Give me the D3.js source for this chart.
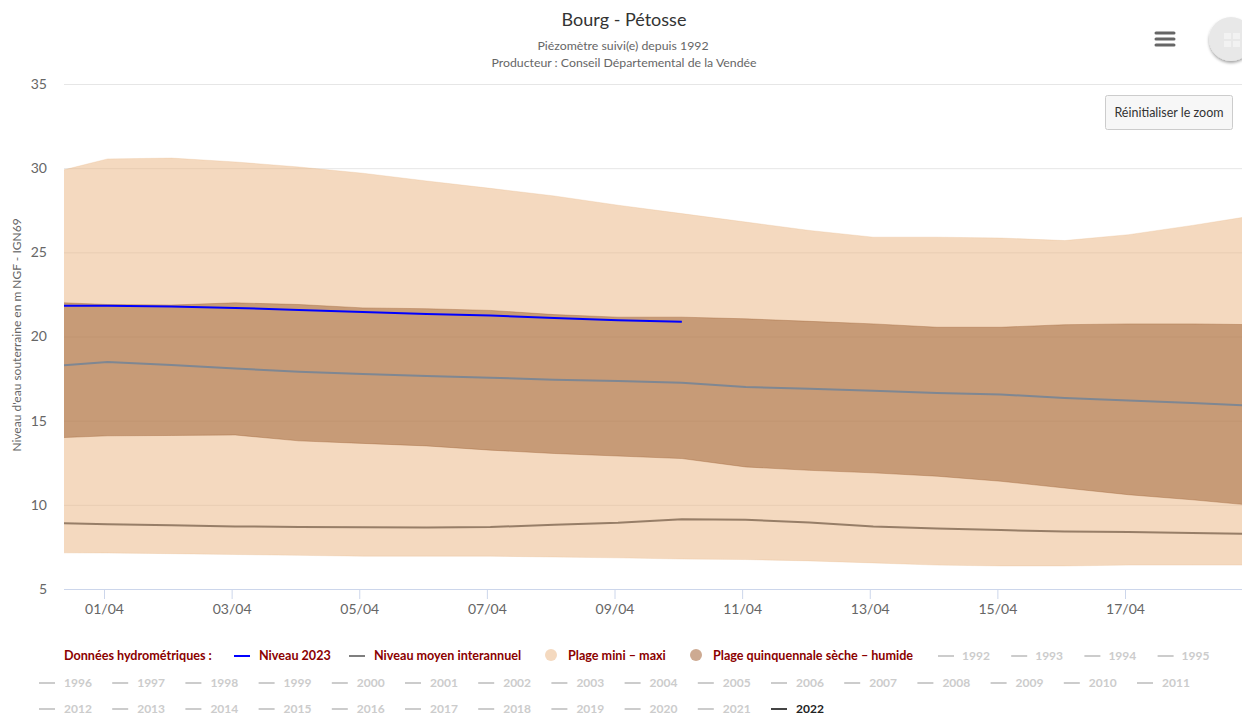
<!DOCTYPE html>
<html>
<head>
<meta charset="utf-8">
<script src="https://cdn.jsdelivr.net/npm/d3@7"></script>
<style>
  html, body { margin: 0; padding: 0; background: #fff; overflow: hidden; }
  svg { display: block; font-family: Lato, "Noto Sans", sans-serif; }
</style>
</head>
<body>
<svg width="1242" height="715"></svg>
<script>
"use strict"

const days = ["31/03","01/04","02/04","03/04","04/04","05/04","06/04","07/04","08/04","09/04","10/04","11/04","12/04","13/04","14/04","15/04","16/04","17/04","18/04","19/04"]
const tickDays = ["01/04","03/04","05/04","07/04","09/04","11/04","13/04","15/04","17/04"]
const yTicks = [5, 10, 15, 20, 25, 30, 35]

const rangeMax = [29.6,30.55,30.6,30.37,30.07,29.7,29.24,28.8,28.35,27.8,27.3,26.8,26.3,25.9,25.9,25.85,25.7,26.05,26.6,27.2]
const rangeMin = [7.15,7.14,7.1,7.05,7,6.95,6.95,6.95,6.9,6.85,6.78,6.75,6.67,6.55,6.42,6.37,6.37,6.42,6.42,6.42]
const quinHigh = [22.05,21.9,21.87,22,21.9,21.7,21.65,21.55,21.3,21.15,21.15,21.05,20.9,20.75,20.55,20.55,20.7,20.75,20.75,20.7]
const quinLow = [13.95,14.1,14.12,14.15,13.8,13.65,13.5,13.25,13.05,12.9,12.75,12.25,12.05,11.9,11.7,11.4,11,10.6,10.3,9.95]
const meanLevel = [18.2,18.48,18.3,18.1,17.9,17.77,17.65,17.55,17.43,17.35,17.25,17,16.9,16.78,16.65,16.55,16.35,16.2,16.05,15.87]
const level2022 = [8.93,8.85,8.78,8.72,8.68,8.67,8.65,8.68,8.82,8.93,9.15,9.12,8.95,8.72,8.6,8.5,8.42,8.38,8.33,8.27]
const level2023 = [21.82,21.82,21.78,21.7,21.58,21.45,21.33,21.25,21.1,20.97,20.87]

const legendRow1 = ["1992","1993","1994","1995"]
const legendRow2 = ["1996","1997","1998","1999","2000","2001","2002","2003","2004","2005","2006","2007","2008","2009","2010","2011"]
const legendRow3 = ["2012","2013","2014","2015","2016","2017","2018","2019","2020","2021","2022"]

const plotLeft = 64, plotRight = 1242, plotTop = 84, plotBottom = 589
const parseDay = d3.utcParse("%d/%m/%Y")
const toDate = d => parseDay(d + "/2023")

const x = d3.scaleUtc().domain([toDate("01/04"), toDate("17/04")]).range([104, 1125])
const y = d3.scaleLinear().domain([5, 35]).range([plotBottom, plotTop])

const svg = d3.select("svg")

svg.append("defs").append("clipPath").attr("id", "plot-clip")
    .append("rect").attr("x", plotLeft).attr("y", plotTop).attr("width", plotRight - plotLeft).attr("height", plotBottom - plotTop)

const shadow = svg.select("defs").append("filter").attr("id", "btn-shadow")
    .attr("x", "-30%").attr("y", "-30%").attr("width", "160%").attr("height", "170%")
shadow.append("feDropShadow").attr("dx", 0).attr("dy", 2).attr("stdDeviation", 1.5)
    .attr("flood-color", "#000").attr("flood-opacity", 0.35)

// grid and axes
const yAxis = d3.axisLeft(y).tickValues(yTicks).tickSize(-(plotRight - plotLeft)).tickPadding(17)
svg.append("g").attr("transform", "translate(" + plotLeft + ",0)").call(yAxis)
    .call(g => g.select(".domain").remove())
    .call(g => g.selectAll(".tick line").attr("stroke", "#e6e6e6"))
    .call(g => g.selectAll(".tick line").filter(d => d === 5).remove())
    .call(g => g.selectAll("text").attr("fill", "#666").style("font-size", "14px").style("font-family", "Lato"))

const xAxis = d3.axisBottom(x).tickValues(tickDays.map(toDate)).tickFormat(d3.utcFormat("%d/%m")).tickSize(10).tickPadding(5)
svg.append("g").attr("transform", "translate(0," + plotBottom + ")").call(xAxis)
    .call(g => g.select(".domain").remove())
    .call(g => g.selectAll(".tick line").attr("stroke", "#ccd6eb"))
    .call(g => g.selectAll("text").attr("fill", "#666").style("font-size", "14px").style("font-family", "Lato"))

svg.append("line").attr("x1", plotLeft).attr("x2", plotRight).attr("y1", plotBottom + 0.5).attr("y2", plotBottom + 0.5).attr("stroke", "#ccd6eb")

// bands and lines, measures are taken a little after midnight
const plot = svg.append("g").attr("clip-path", "url(#plot-clip)")
const dates = days.map(d => d3.utcMinute.offset(toDate(d), 80))

const band = (low, high) => d3.area().x((d, i) => x(dates[i])).y0((d, i) => y(low[i])).y1((d, i) => y(high[i]))(days)
const line = values => d3.line().x((d, i) => x(dates[i])).y(d => y(d))(values)

plot.append("path").attr("d", band(rangeMin, rangeMax)).attr("fill", "#e9b37f").attr("fill-opacity", 0.5)
    .attr("stroke", "#e9b37f").attr("stroke-opacity", 0.25)
plot.append("path").attr("d", band(quinLow, quinHigh)).attr("fill", "#9a5d2f").attr("fill-opacity", 0.5)
    .attr("stroke", "#9a5d2f").attr("stroke-opacity", 0.35)
plot.append("path").attr("d", line(level2022)).attr("fill", "none").attr("stroke", "#3a2410").attr("stroke-opacity", 0.5).attr("stroke-width", 2)
plot.append("path").attr("d", line(meanLevel)).attr("fill", "none").attr("stroke", "#7f8792").attr("stroke-width", 2)
plot.append("path").attr("d", line(level2023)).attr("fill", "none").attr("stroke", "#0000ff").attr("stroke-width", 2)

// titles
svg.append("text").attr("x", 624).attr("y", 26).attr("text-anchor", "middle").attr("fill", "#333").style("font-size", "18px").text("Bourg - Pétosse")
svg.append("text").attr("x", 623).attr("y", 50).attr("text-anchor", "middle").attr("fill", "#666").style("font-size", "12.3px").text("Piézomètre suivi(e) depuis 1992")
svg.append("text").attr("x", 624).attr("y", 67).attr("text-anchor", "middle").attr("fill", "#666").style("font-size", "12.3px").text("Producteur : Conseil Départemental de la Vendée")
svg.append("text").attr("transform", "translate(21,335) rotate(-90)").attr("text-anchor", "middle").attr("fill", "#666").style("font-size", "12px")
    .text("Niveau d'eau souterraine en m NGF - IGN69")

// menu, export button
svg.append("g").selectAll("line").data([33, 39, 45]).join("line")
    .attr("x1", 1156).attr("x2", 1174).attr("y1", d => d).attr("y2", d => d)
    .attr("stroke", "#666").attr("stroke-width", 3).attr("stroke-linecap", "round")

svg.append("circle").attr("cx", 1231).attr("cy", 39).attr("r", 22).attr("fill", "#e8e8e8").attr("filter", "url(#btn-shadow)")
svg.append("g").attr("fill", "#f2f2f2").selectAll("rect").data([[1224, 33], [1233, 33], [1224, 41], [1233, 41]]).join("rect")
    .attr("x", d => d[0]).attr("y", d => d[1]).attr("width", 7).attr("height", 6)

svg.append("rect").attr("x", 1105.5).attr("y", 95.5).attr("width", 127).attr("height", 34).attr("rx", 2)
    .attr("fill", "#f7f7f7").attr("stroke", "#ccc")
svg.append("text").attr("x", 1169).attr("y", 117).attr("text-anchor", "middle").attr("fill", "#333").style("font-size", "12.5px").text("Réinitialiser le zoom")

// legend
const legend = svg.append("g").style("font-size", "12px").style("font-weight", 700)
const legendText = (tx, ty, label, color) => legend.append("text").attr("x", tx).attr("y", ty + 4).attr("fill", color).text(label)
const legendName = (tx, ty, label) => legendText(tx, ty, label, "#8b0000").style("font-size", "12.6px")
const legendLine = (lx, ly, color) => legend.append("line").attr("x1", lx).attr("x2", lx + 16).attr("y1", ly).attr("y2", ly).attr("stroke", color).attr("stroke-width", 2)
const legendDot = (cx, cy, color) => legend.append("circle").attr("cx", cx).attr("cy", cy).attr("r", 6).attr("fill", color)

legendName(64, 656, "Données hydrométriques :")
legendLine(234, 656, "#0000ff"); legendName(259, 656, "Niveau 2023")
legendLine(349, 656, "#7f7f7f"); legendName(374, 656, "Niveau moyen interannuel")
legendDot(551, 655, "#f4d9bf"); legendName(568, 656, "Plage mini – maxi")
legendDot(696, 655, "#cdaa92"); legendName(713, 656, "Plage quinquennale sèche – humide")

legendRow1.forEach((label, i) => {
    legendLine(938 + i * 73.2, 656, "#ccc"); legendText(962 + i * 73.2, 656, label, "#ccc")
})
legendRow2.forEach((label, i) => {
    legendLine(39 + i * 73.2, 683, "#ccc"); legendText(64 + i * 73.2, 683, label, "#ccc")
})
legendRow3.forEach((label, i) => {
    const on = label === "2022"
    legendLine(39 + i * 73.2, 709, on ? "#444" : "#ccc"); legendText(64 + i * 73.2, 709, label, on ? "#222" : "#ccc")
})
</script>
</body>
</html>
